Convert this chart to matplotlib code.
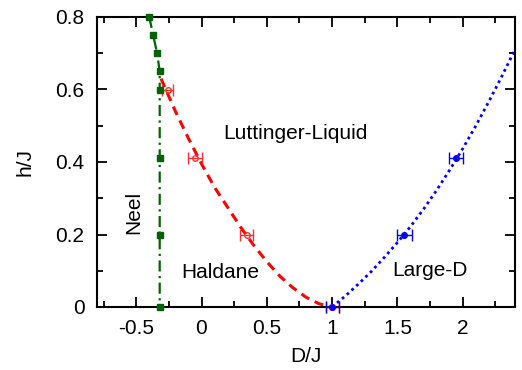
import matplotlib
matplotlib.use("Agg")
import matplotlib.pyplot as plt
from matplotlib.ticker import MultipleLocator, FuncFormatter

plt.rcParams['font.family'] = ['Liberation Sans', 'DejaVu Sans']

# Neel boundary (green squares)
neel_D = [-0.40, -0.37, -0.34, -0.32, -0.32, -0.32, -0.32, -0.32]
neel_h = [0.80, 0.75, 0.70, 0.65, 0.60, 0.41, 0.20, 0.00]

# Haldane boundary data (red open circles)
hal_D = [-0.26, -0.05, 0.345, 1.00]
hal_h = [0.60, 0.41, 0.20, 0.00]
hal_err = [0.045, 0.05, 0.05, 0.05]

# Haldane boundary fit curve
hal_fit_D = [-0.31, -0.2, -0.1, 0.0, 0.1, 0.2, 0.3, 0.4, 0.5, 0.6, 0.7, 0.8, 0.9, 1.0]
hal_fit_h = [0.63, 0.54, 0.465, 0.395, 0.33, 0.275, 0.22, 0.17, 0.125, 0.085, 0.053, 0.027, 0.009, 0.0]

# Large-D boundary data (blue filled circles)
ld_D = [1.00, 1.553, 1.95]
ld_h = [0.00, 0.20, 0.41]
ld_err = [0.05, 0.055, 0.055]

# Large-D boundary fit curve
ld_fit_D = [1.0, 1.1, 1.2, 1.3, 1.4, 1.5, 1.6, 1.7, 1.8, 1.9, 2.0, 2.1, 2.2, 2.3, 2.4]
ld_fit_h = [0.0, 0.03, 0.063, 0.098, 0.137, 0.178, 0.222, 0.27, 0.322, 0.378, 0.437, 0.5, 0.567, 0.637, 0.71]

fig = plt.figure(figsize=(5.22, 3.70), dpi=100)
ax = fig.add_axes([97/522, 1-307/370, (515-97)/522, (307-17)/370])

green = '#006400'
ax.plot(neel_D, neel_h, color=green, linestyle=(0, (5, 2, 1, 2)), lw=1.6,
        marker='s', markersize=5, markerfacecolor=green, markeredgecolor=green,
        zorder=5, clip_on=False)

ax.plot(hal_fit_D, hal_fit_h, color='#ff0000', linestyle=(0, (3, 2)), lw=2.2, zorder=2)
ax.errorbar(hal_D, hal_h, xerr=hal_err, fmt='o', color='#ff3030', ecolor='#ff3030',
            markersize=4, markerfacecolor='none', markeredgewidth=1.0,
            elinewidth=1.0, capsize=4.5, capthick=1.0, zorder=4, clip_on=False)

ax.plot(ld_fit_D, ld_fit_h, color='#0000ff', linestyle=(0, (1, 1.3)), lw=2.0, zorder=2)
ax.errorbar(ld_D, ld_h, xerr=ld_err, fmt='o', color='#0000ff', ecolor='#0000ff',
            markersize=4, elinewidth=1.0, capsize=4.5, capthick=1.0, zorder=4, clip_on=False)

ax.set_xlim(-0.8, 2.4)
ax.set_ylim(0, 0.8)

ax.xaxis.set_major_locator(MultipleLocator(0.5))
ax.xaxis.set_minor_locator(MultipleLocator(0.25))
ax.yaxis.set_major_locator(MultipleLocator(0.2))
ax.yaxis.set_minor_locator(MultipleLocator(0.1))

fmt = FuncFormatter(lambda v, p: ('%g' % round(v, 3)))
ax.xaxis.set_major_formatter(fmt)
ax.yaxis.set_major_formatter(fmt)

ax.tick_params(which='both', direction='in', top=True, right=True, labelsize=15, width=1.3)
ax.tick_params(which='major', length=7, pad=9)
ax.tick_params(which='minor', length=4)
for s in ax.spines.values():
    s.set_linewidth(1.5)

ax.set_xlabel('D/J', fontsize=15, labelpad=6)
ax.set_ylabel('h/J', fontsize=15, labelpad=15)

ax.text(0.717, 0.478, 'Luttinger-Liquid', fontsize=15, ha='center', va='center')
ax.text(0.14, 0.094, 'Haldane', fontsize=15, ha='center', va='center')
ax.text(1.745, 0.102, 'Large-D', fontsize=15, ha='center', va='center')
ax.text(-0.52, 0.26, 'Neel', fontsize=15, ha='center', va='center', rotation=90)

fig.savefig('out.png', dpi=100)
